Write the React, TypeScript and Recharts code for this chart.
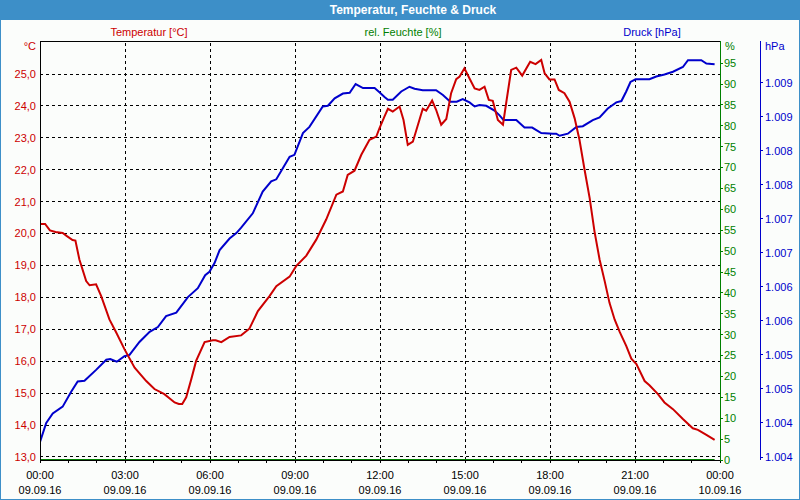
import React from 'react';
import { LineChart, Line, XAxis, YAxis, ReferenceLine } from 'recharts';

// ---- data ----
const hourTicks = [0,1,2,3,4,5,6,7,8,9,10,11,12,13,14,15,16,17,18,19,20,21,22,23,24];
const gridHours = [3, 6, 9, 12, 15, 18, 21];
const timeLabels = ['00:00','03:00','06:00','09:00','12:00','15:00','18:00','21:00','00:00'];
const dateLabels = ['09.09.16','09.09.16','09.09.16','09.09.16','09.09.16','09.09.16','09.09.16','09.09.16','10.09.16'];

const tempTicks = [13,14,15,16,17,18,19,20,21,22,23,24,25];
const humTicks = [0,5,10,15,20,25,30,35,40,45,50,55,60,65,70,75,80,85,90,95];
const pressTicks = [1003.8,1004.3,1004.8,1005.3,1005.8,1006.3,1006.8,1007.3,1007.8,1008.3,1008.8,1009.3];

const tempHours = [0,0.18,0.35,0.55,0.8,0.95,1.15,1.25,1.39,1.63,1.75,1.98,2.16,2.45,2.69,2.98,3.34,3.75,4.04,4.39,4.75,4.9,5.02,5.16,5.34,5.51,5.81,6.1,6.2,6.4,6.69,7.1,7.39,7.69,8.1,8.34,8.81,9.04,9.4,9.75,10.1,10.46,10.69,10.86,11.1,11.34,11.63,11.87,11.98,12.16,12.28,12.45,12.69,12.83,12.98,13.16,13.51,13.63,13.84,13.98,14.16,14.34,14.51,14.69,14.81,14.98,15.16,15.34,15.51,15.69,15.84,15.98,16.16,16.34,16.46,16.63,16.81,17.02,17.3,17.49,17.69,17.81,17.98,18.16,18.31,18.51,18.69,18.87,19.04,19.22,19.4,19.57,19.75,19.93,20.1,20.28,20.46,20.69,20.87,21.05,21.34,21.51,21.81,22.04,22.34,22.69,23.04,23.22,23.52,23.81];
const tempValues = [20.3,20.3,20.1,20.05,20.02,19.92,19.8,19.78,19.19,18.51,18.38,18.41,18.04,17.31,16.9,16.38,15.8,15.38,15.13,14.97,14.71,14.66,14.66,14.87,15.44,16.01,16.6,16.66,16.66,16.6,16.76,16.81,17.02,17.57,18.04,18.35,18.65,18.98,19.31,19.81,20.44,21.22,21.32,21.84,21.97,22.47,22.94,23.04,23.3,23.67,23.91,23.82,23.98,23.56,22.78,22.88,23.91,23.85,24.17,23.88,23.41,23.59,24.4,24.84,24.92,25.18,24.86,24.55,24.5,24.6,24.19,24.16,23.56,23.41,24.13,25.13,25.2,24.95,25.38,25.31,25.44,25.02,24.83,24.83,24.5,24.4,24.13,23.61,22.94,22.0,21.11,20.07,19.19,18.51,17.83,17.31,16.92,16.48,16.08,15.91,15.38,15.25,14.97,14.71,14.5,14.19,13.9,13.85,13.69,13.54];

const pressHours = [0,0.22,0.45,0.8,1.1,1.33,1.57,1.98,2.34,2.48,2.71,2.98,3.16,3.51,3.87,4.16,4.45,4.81,5.22,5.57,5.83,5.98,6.16,6.34,6.69,6.93,7.1,7.51,7.86,8.16,8.34,8.81,8.98,9.28,9.51,9.98,10.16,10.4,10.69,10.93,11.14,11.4,11.81,11.98,12.16,12.28,12.45,12.75,13.04,13.22,13.51,13.98,14.22,14.48,14.71,14.92,15.16,15.34,15.51,15.75,16.04,16.22,16.36,16.81,17.1,17.37,17.69,18.1,18.22,18.34,18.63,18.93,19.16,19.51,19.75,20.04,20.34,20.52,20.69,20.84,21.02,21.51,21.75,22.04,22.34,22.69,22.87,23.34,23.52,23.81];
const pressValues = [1004.02,1004.3,1004.44,1004.54,1004.76,1004.91,1004.92,1005.08,1005.23,1005.24,1005.2,1005.28,1005.3,1005.49,1005.64,1005.71,1005.87,1005.92,1006.15,1006.28,1006.47,1006.52,1006.65,1006.84,1007.01,1007.09,1007.17,1007.38,1007.7,1007.85,1007.88,1008.21,1008.24,1008.56,1008.65,1008.95,1008.96,1009.07,1009.14,1009.15,1009.28,1009.22,1009.22,1009.16,1009.09,1009.05,1009.05,1009.17,1009.24,1009.21,1009.19,1009.19,1009.12,1009.02,1009.02,1009.06,1009.01,1008.95,1008.97,1008.96,1008.89,1008.82,1008.75,1008.75,1008.64,1008.64,1008.56,1008.55,1008.55,1008.52,1008.55,1008.65,1008.66,1008.75,1008.79,1008.92,1009.01,1009.03,1009.17,1009.31,1009.35,1009.35,1009.39,1009.42,1009.46,1009.53,1009.63,1009.63,1009.58,1009.57];

const humHours = [0, 6, 12, 18, 23.81];
const humValues = [0, 0, 0, 0, 0];

// ---- styling ----
const RED = '#cc0000';
const GREEN = '#008000';
const BLUE = '#0000cc';
const FRAME = '#3d8fc8';
const FONT = '"Liberation Sans", Arial, sans-serif';
const TEMP_DOMAIN: [number, number] = [12.906, 26.034];
const HUM_DOMAIN: [number, number] = [0, 100.3];
const PRESS_DOMAIN: [number, number] = [1003.756, 1009.912];

const tempData = tempHours.map((h, i) => ({ h, v: tempValues[i] }));
const pressData = pressHours.map((h, i) => ({ h, v: pressValues[i] }));
const humData = humHours.map((h, i) => ({ h, v: humValues[i] }));

const XTick = (props: any) => {
  const { x, payload } = props;
  const h = payload.value;
  if (h % 3 !== 0) return <g />;
  const i = h / 3;
  return (
    <g>
      <text x={x} y={479} textAnchor="middle" fill="#000" fontSize={11} fontFamily={FONT}>{timeLabels[i]}</text>
      <text x={x} y={494} textAnchor="middle" fill="#000" fontSize={11} fontFamily={FONT}>{dateLabels[i]}</text>
    </g>
  );
};

export default function App() {
  return (
    <div style={{ position: 'absolute', left: 0, top: 0, width: 800, height: 500, background: '#fbfdfb', boxSizing: 'border-box', overflow: 'hidden' }}>
      <style>{`.recharts-cartesian-axis-line, .recharts-cartesian-axis-tick-line, .recharts-reference-line-line { shape-rendering: crispEdges; }`}</style>
      <div style={{ position: 'absolute', left: 0, top: 0 }}>
        <LineChart width={800} height={500} margin={{ top: 41, right: 0, bottom: 0, left: 0 }}>
          <XAxis dataKey="h" type="number" domain={[0, 24]} ticks={hourTicks} interval={0} allowDataOverflow
            height={40} tickSize={3} stroke="#000" axisLine={{ stroke: '#000' }} tickLine={{ stroke: '#000' }} tick={<XTick />} />
          <YAxis yAxisId="temp" orientation="left" width={40} domain={TEMP_DOMAIN} ticks={tempTicks} interval={0} allowDataOverflow
            axisLine={{ stroke: '#000' }} tickLine={false} tickSize={0} tickMargin={4}
            tick={{ fill: RED, fontSize: 11, fontFamily: FONT }} tickFormatter={(v: number) => v.toFixed(1).replace('.', ',')} />
          <YAxis yAxisId="hum" orientation="right" width={40} domain={HUM_DOMAIN} ticks={humTicks} interval={0} allowDataOverflow
            axisLine={{ stroke: GREEN }} tickLine={{ stroke: GREEN }} tickSize={3} tickMargin={1}
            tick={{ fill: GREEN, fontSize: 11, fontFamily: FONT }} />
          <YAxis yAxisId="press" orientation="right" width={40} domain={PRESS_DOMAIN} ticks={pressTicks} interval={0} allowDataOverflow
            axisLine={{ stroke: BLUE }} tickLine={{ stroke: BLUE }} tickSize={3} tickMargin={2}
            tick={{ fill: BLUE, fontSize: 11, fontFamily: FONT }} tickFormatter={(v: number) => (v / 1000).toFixed(3)} />
          {tempTicks.map((t) => (
            <ReferenceLine key={'ht' + t} yAxisId="temp" y={t} stroke="#000" strokeDasharray="3 3" />
          ))}
          {gridHours.map((h) => (
            <ReferenceLine key={'vg' + h} yAxisId="temp" x={h} stroke="#000" strokeDasharray="3 3" />
          ))}
          <ReferenceLine yAxisId="temp" y={TEMP_DOMAIN[1]} stroke="#000" />
          <Line yAxisId="hum" data={humData} dataKey="v" stroke={GREEN} strokeWidth={2} dot={false} isAnimationActive={false} />
          <Line yAxisId="press" data={pressData} dataKey="v" stroke={BLUE} strokeWidth={2} dot={false} isAnimationActive={false} />
          <Line yAxisId="temp" data={tempData} dataKey="v" stroke={RED} strokeWidth={2} dot={false} isAnimationActive={false} />
        </LineChart>
      </div>
      <svg width={800} height={500} style={{ position: 'absolute', left: 0, top: 0, pointerEvents: 'none' }}>
        <rect x={0} y={0} width={800} height={20} fill={FRAME} />
        <rect x={0.5} y={0.5} width={799} height={499} fill="none" stroke={FRAME} />
        <text x={413} y={14} textAnchor="middle" fill="#fff" fontSize={12} fontWeight="bold" fontFamily={FONT}>Temperatur, Feuchte &amp; Druck</text>
        <text x={149} y={36} textAnchor="middle" fill={RED} fontSize={11} fontFamily={FONT}>Temperatur [°C]</text>
        <text x={403} y={36} textAnchor="middle" fill={GREEN} fontSize={11} fontFamily={FONT}>rel. Feuchte [%]</text>
        <text x={652} y={36} textAnchor="middle" fill={BLUE} fontSize={11} fontFamily={FONT}>Druck [hPa]</text>
        <text x={36} y={50} textAnchor="end" fill={RED} fontSize={11} fontFamily={FONT}>°C</text>
        <text x={725} y={50} textAnchor="start" fill={GREEN} fontSize={11} fontFamily={FONT}>%</text>
        <text x={765} y={50} textAnchor="start" fill={BLUE} fontSize={11} fontFamily={FONT}>hPa</text>
      </svg>
    </div>
  );
}
